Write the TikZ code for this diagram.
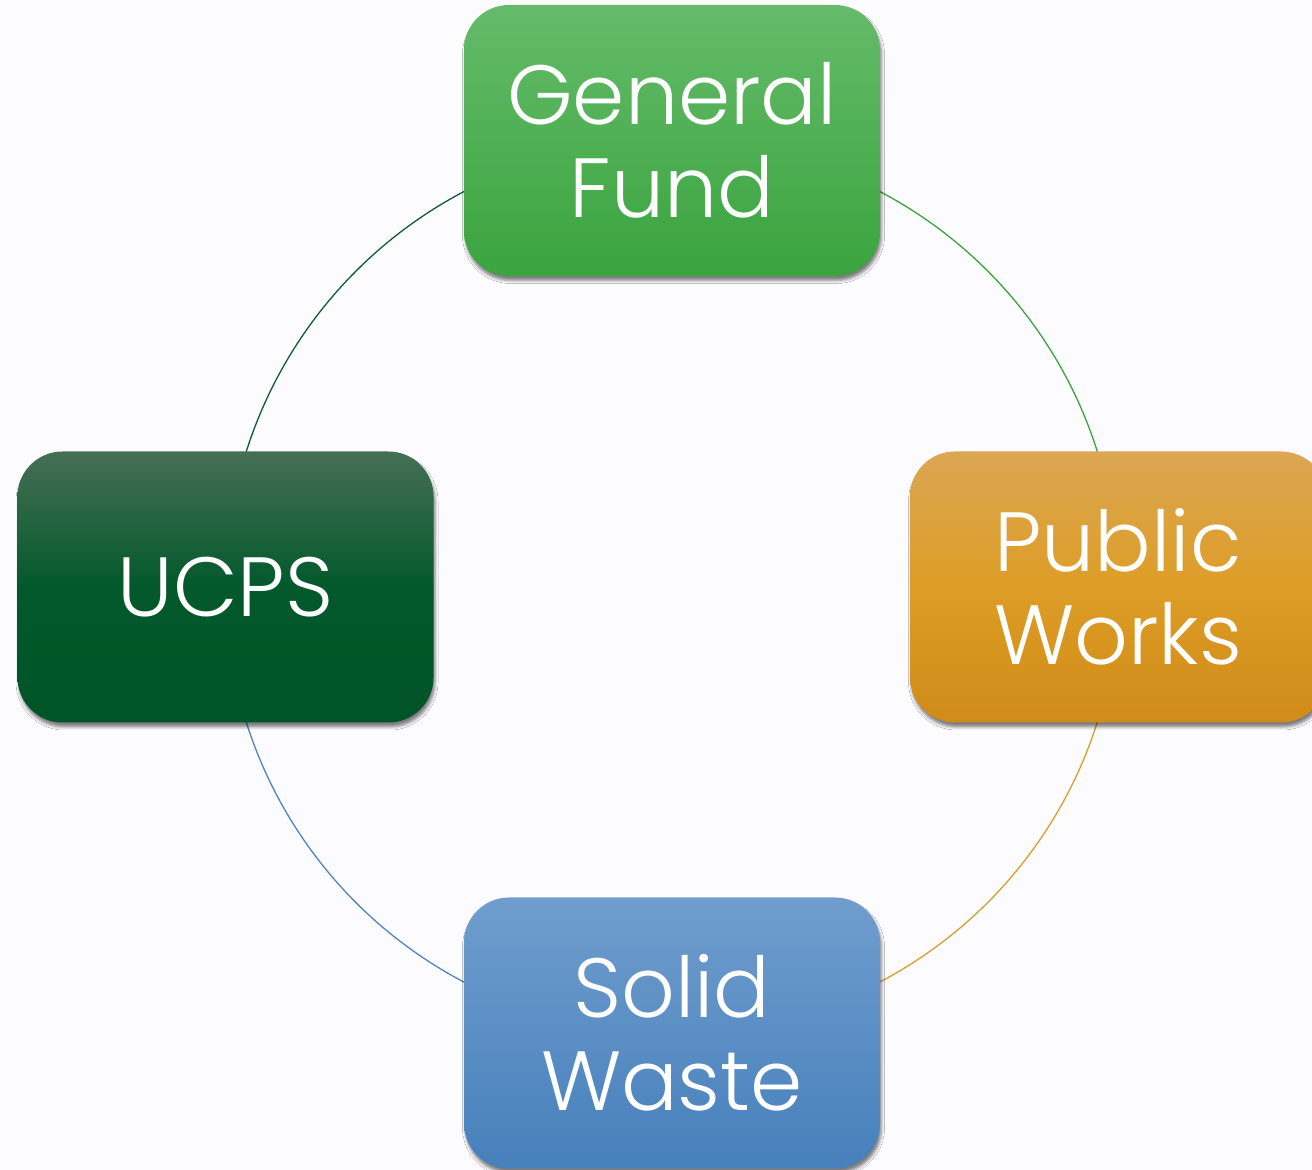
\documentclass[tikz,border=0pt]{standalone}
\usepackage{fontspec}
\setmainfont{Poppins Light}
\usetikzlibrary{shadows.blur,backgrounds}

\definecolor{pagebg}{RGB}{252,251,254}
\definecolor{gftop}{RGB}{101,187,106}
\definecolor{gfbot}{RGB}{58,164,62}
\definecolor{uctop}{RGB}{70,111,85}
\definecolor{ucmid}{RGB}{3,89,43}
\definecolor{ucbot}{RGB}{0,84,39}
\definecolor{pwtop}{RGB}{220,166,83}
\definecolor{pwmid}{RGB}{221,157,38}
\definecolor{pwbot}{RGB}{208,139,24}
\definecolor{swtop}{RGB}{112,157,206}
\definecolor{swbot}{RGB}{70,128,187}
\definecolor{gfline}{RGB}{58,164,62}
\definecolor{ucline}{RGB}{18,90,52}
\definecolor{pwline}{RGB}{217,158,45}
\definecolor{swline}{RGB}{80,134,192}

\begin{document}
\begin{tikzpicture}[x=1pt,y=1pt,
  box/.style={rounded corners=45pt, minimum width=416pt, minimum height=271pt,
    inner sep=0pt, align=center, text=white,
    font=\fontsize{84}{93}\selectfont,
    blur shadow={shadow xshift=1.5pt, shadow yshift=-4.5pt,
      shadow blur radius=3pt, shadow opacity=50}},
  link/.style={line width=1.3pt}]
\useasboundingbox (0,0) rectangle (1312,1170);

% the four departments
\node[box, top color=gftop, bottom color=gfbot] (gf) at (672,1029.5) {General\\Fund};
\node[box, top color=uctop, bottom color=ucbot, middle color=ucmid] (ucps) at (225.5,583) {UCPS};
\node[box, top color=pwtop, bottom color=pwbot, middle color=pwmid] (pw) at (1118,583) {Public\\Works};
\node[box, top color=swtop, bottom color=swbot] (sw) at (672,137) {Solid\\Waste};

% ring of arcs behind the boxes
\begin{pgfonlayer}{background}
\fill[pagebg] (0,0) rectangle (1312,1170);
\draw[link, ucline] (gf.center) to[bend right=45] (ucps.center);
\draw[link, swline] (ucps.center) to[bend right=45] (sw.center);
\draw[link, pwline] (sw.center) to[bend right=45] (pw.center);
\draw[link, gfline] (pw.center) to[bend right=45] (gf.center);
\end{pgfonlayer}
\end{tikzpicture}
\end{document}
